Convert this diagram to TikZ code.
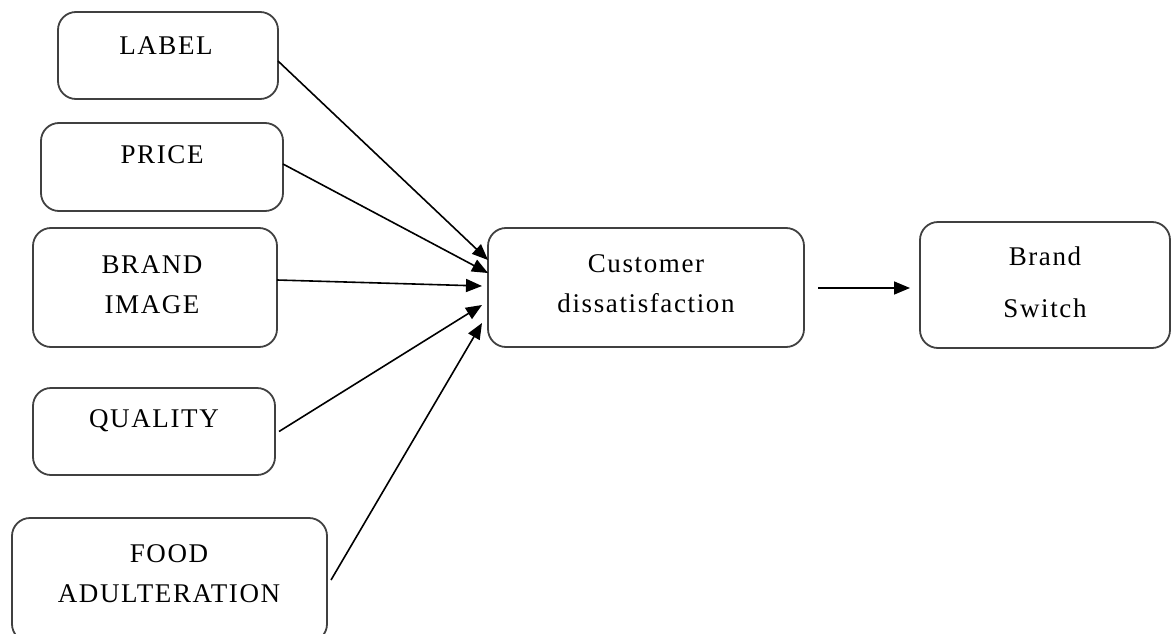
\documentclass[tikz,border=0pt]{standalone}
\usepackage{fontspec}
\setmainfont{Liberation Serif}[LetterSpace=6]
\usetikzlibrary{arrows.meta,calc}
\tikzset{
  box/.style={draw=black!75, line width=1.8pt, rounded corners=18pt, inner sep=0pt, outer sep=0pt},
  txt/.style={anchor=base, align=center, inner sep=0pt, font=\fontsize{27}{40}\selectfont},
  link/.style={draw=black, line width=1.6pt, -{Triangle[length=16pt,width=13pt]}},
}
\begin{document}
\begin{tikzpicture}[x=1pt,y=-1pt]
  \useasboundingbox (0,0) rectangle (1172,634);

  % factor boxes on the left
  \node[box, minimum width=220pt, minimum height=87pt]  (label)   at (168,55.5) {};
  \node[box, minimum width=242pt, minimum height=88pt]  (price)   at (162,167)  {};
  \node[box, minimum width=244pt, minimum height=119pt] (image)   at (155,287.5){};
  \node[box, minimum width=242pt, minimum height=87pt]  (quality) at (154,431.5){};
  \node[box, minimum width=315pt, minimum height=124pt] (food)    at (169.5,580){};

  % outcome boxes
  \node[box, minimum width=316pt, minimum height=119pt] (cd) at (646,287.5) {};
  \node[box, minimum width=250pt, minimum height=126pt] (bs) at (1045,285)  {};

  % box texts (multi-line texts are placed by the baseline of their last line)
  \node[txt] (tlabel)   at (166,55)  {LABEL};
  \node[txt] (tprice)   at (162,163) {PRICE};
  \node[txt] (timage)   at (152,313) {BRAND\\IMAGE};
  \node[txt] (tquality) at (154,427) {QUALITY};
  \node[txt] (tfood)    at (169,602) {FOOD\\ADULTERATION};
  \node[txt] (tcd)      at (646,312) {Customer\\dissatisfaction};
  \node[txt] (tbs)      at (1045,317){Brand\\[12pt]Switch};

  % influences on customer dissatisfaction
  \draw[link] ([yshift=-5.5pt]label.east) -- ([yshift=27.5pt]cd.west);
  \draw[link] ([yshift=3pt]price.east)    -- ([yshift=14.5pt]cd.west);
  \draw[link] ([yshift=7.5pt]image.east)  -- ([xshift=-6pt,yshift=1.5pt]cd.west);
  \draw[link] ([xshift=4pt]quality.east)  -- ([xshift=-6pt,yshift=-17.5pt]cd.west);
  \draw[link] ([xshift=4pt]food.east)     -- ([xshift=-6pt,yshift=-35.5pt]cd.west);

  % dissatisfaction leads to switching
  \draw[link] ([xshift=14pt,yshift=-0.5pt]cd.east) -- ($(bs.west |- cd.east)+(-10pt,-0.5pt)$);
\end{tikzpicture}
\end{document}
